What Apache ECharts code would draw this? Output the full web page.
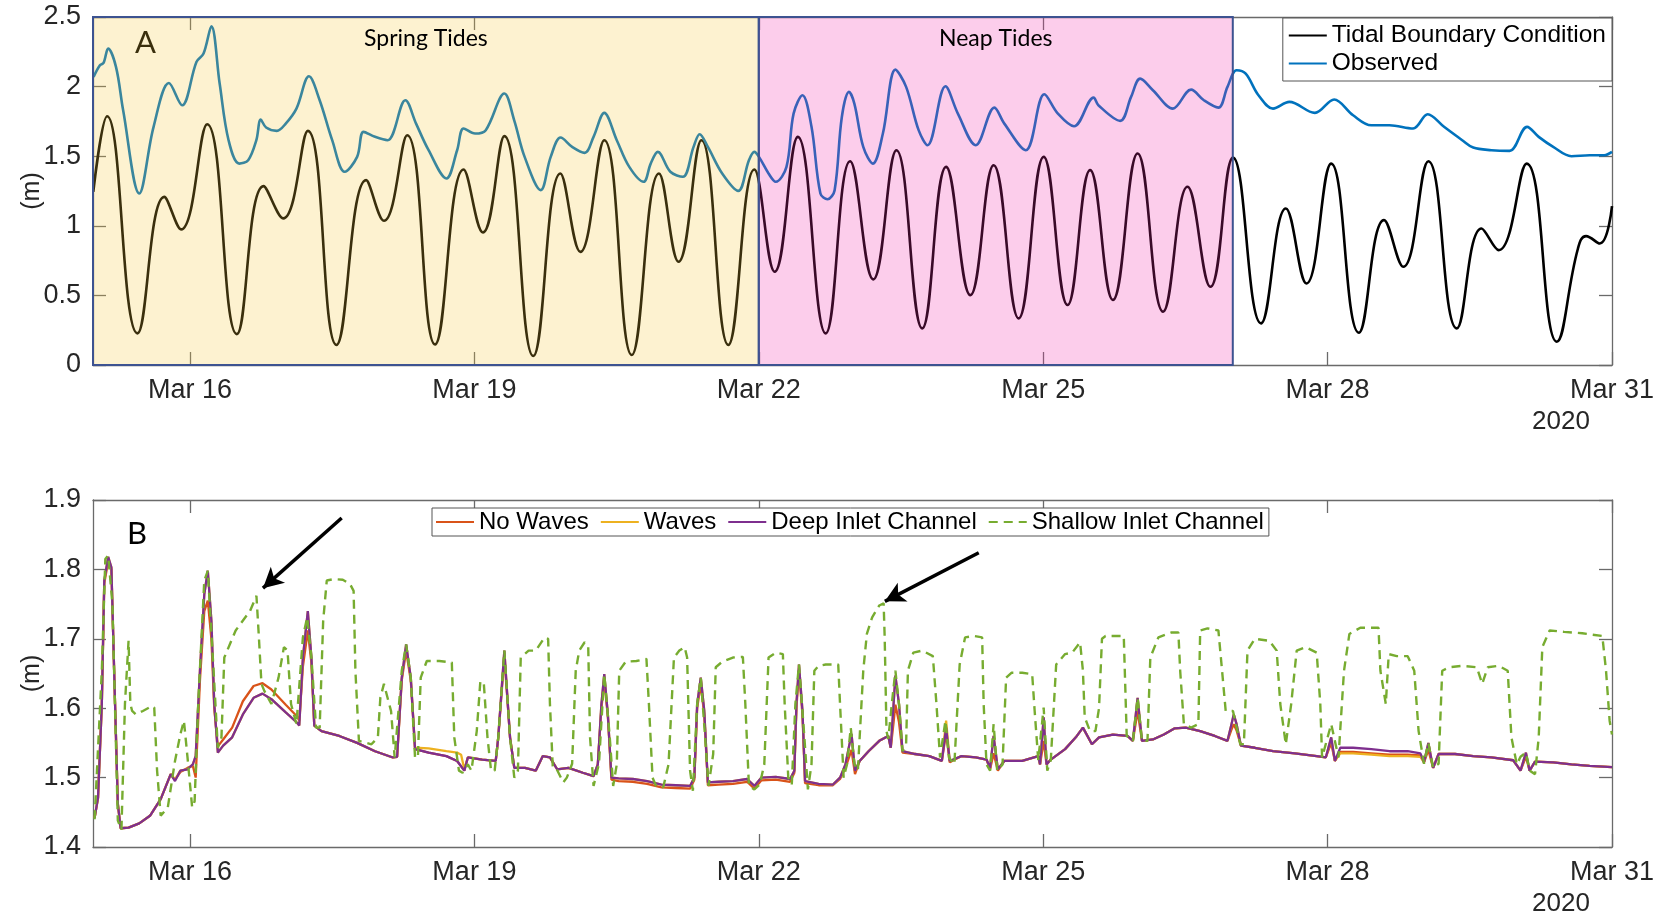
<!DOCTYPE html>
<html>
<head>
<meta charset="utf-8">
<title>Water levels, March 2020</title>
<script src="https://cdn.jsdelivr.net/npm/echarts@6/dist/echarts.min.js"></script>
<style>
  html, body { margin: 0; padding: 0; background: #fff; }
  #chart { width: 1669px; height: 916px; }
</style>
</head>
<body>
<div id="chart"></div>
<script>
// Time is expressed as day of March 2020 (e.g. 16.5 = Mar 16, 12:00).
const X_MIN = 14.977;
const X_MAX = 31;
const dayTicks = [16, 19, 22, 25, 28, 31];
const yearLabel = '2020';

// Shaded periods (day of March)
const springPeriod = [X_MIN, 22];
const neapPeriod = [22, 27];
const periodNames = ['Spring Tides', 'Neap Tides'];

const seriesNamesA = ['Tidal Boundary Condition', 'Observed'];
const seriesNamesB = ['No Waves', 'Waves', 'Deep Inlet Channel', 'Shallow Inlet Channel'];

// Panel A: tidal boundary condition (m), turning points of the tide
const tidalBoundary = [
  [14.98,1.244],[15.126,1.787],[15.446,0.227],[15.729,1.208],[15.906,0.974],[16.181,1.730],
  [16.494,0.222],[16.776,1.285],[16.983,1.053],[17.243,1.682],[17.545,0.144],[17.858,1.328],
  [18.046,1.036],[18.291,1.651],[18.585,0.148],[18.886,1.404],[19.090,0.952],[19.316,1.644],
  [19.621,0.065],[19.907,1.376],[20.118,0.813],[20.370,1.615],[20.660,0.072],[20.947,1.376],
  [21.154,0.742],[21.395,1.615],[21.678,0.144],[21.953,1.404],[22.168,0.670],[22.412,1.639],
  [22.706,0.227],[22.963,1.464],[23.207,0.615],[23.452,1.543],[23.724,0.263],[23.976,1.423],
  [24.232,0.502],[24.477,1.435],[24.741,0.335],[25.005,1.495],[25.257,0.431],[25.495,1.400],
  [25.735,0.467],[25.996,1.519],[26.265,0.383],[26.522,1.280],[26.764,0.562],[27.002,1.490],
  [27.298,0.299],[27.559,1.124],[27.777,0.586],[28.038,1.447],[28.330,0.232],[28.595,1.041],
  [28.798,0.706],[29.063,1.464],[29.363,0.263],[29.624,0.981],[29.804,0.825],[30.100,1.447],
  [30.418,0.167],[30.641,0.837],[30.726,0.926],[30.871,0.873],[31.0,1.141]
];

// Panel A: observed water level (m)
const observed = [
  [14.983,2.069],[15.05,2.153],[15.088,2.17],[15.137,2.273],[15.22,2.14],[15.295,1.83],
  [15.465,1.232],[15.616,1.711],[15.778,2.026],[15.917,1.866],[16.068,2.177],[16.143,2.237],
  [16.226,2.433],[16.313,2.022],[16.407,1.615],[16.52,1.447],[16.614,1.471],[16.70,1.615],
  [16.746,1.763],[16.803,1.706],[16.916,1.682],[17.01,1.734],[17.123,1.842],[17.255,2.074],
  [17.368,1.902],[17.50,1.615],[17.632,1.388],[17.763,1.495],[17.831,1.675],[17.952,1.639],
  [18.084,1.615],[18.272,1.902],[18.385,1.734],[18.517,1.543],[18.705,1.340],[18.818,1.543],
  [18.886,1.699],[19.007,1.663],[19.12,1.687],[19.316,1.950],[19.42,1.758],[19.53,1.495],
  [19.70,1.256],[19.805,1.495],[19.91,1.634],[20.031,1.567],[20.163,1.524],[20.257,1.639],
  [20.37,1.811],[20.502,1.615],[20.634,1.423],[20.785,1.316],[20.86,1.447],[20.935,1.531],
  [21.067,1.388],[21.199,1.352],[21.312,1.567],[21.376,1.658],[21.463,1.567],[21.614,1.376],
  [21.783,1.251],[21.896,1.471],[21.953,1.531],[22.002,1.495],[22.103,1.376],[22.179,1.316],
  [22.292,1.423],[22.367,1.806],[22.461,1.938],[22.556,1.711],[22.65,1.232],[22.725,1.191],
  [22.80,1.256],[22.876,1.782],[22.951,1.962],[23.008,1.878],[23.102,1.567],[23.204,1.447],
  [23.309,1.663],[23.441,2.122],[23.554,1.998],[23.686,1.687],[23.78,1.579],[23.969,2.002],
  [24.1,1.806],[24.289,1.579],[24.485,1.849],[24.59,1.734],[24.816,1.543],[25.012,1.945],
  [25.155,1.806],[25.325,1.715],[25.532,1.921],[25.582,1.866],[25.812,1.754],[25.927,1.926],
  [26.023,2.057],[26.157,1.974],[26.368,1.842],[26.56,1.978],[26.695,1.902],[26.848,1.849],
  [26.944,1.998],[27.04,2.117],[27.136,2.093],[27.271,1.938],[27.424,1.842],[27.597,1.890],
  [27.866,1.811],[28.069,1.907],[28.269,1.794],[28.461,1.722],[28.653,1.722],[28.902,1.699],
  [29.056,1.801],[29.228,1.711],[29.42,1.615],[29.536,1.562],[29.727,1.543],[29.919,1.538],
  [30.104,1.711],[30.227,1.639],[30.38,1.567],[30.572,1.5],[30.764,1.507],[30.917,1.507],
  [31.0,1.531]
];

// Panel B: modelled water level, deep inlet channel (m)
const deepInlet = [
  [14.994,1.442],[15.03,1.471],[15.07,1.606],[15.096,1.784],[15.137,1.818],[15.171,1.803],
  [15.2,1.654],[15.239,1.462],[15.269,1.427],[15.352,1.428],[15.465,1.434],[15.578,1.445],
  [15.691,1.469],[15.797,1.505],[15.842,1.495],[15.898,1.51],[15.974,1.512],[16.03,1.519],
  [16.06,1.531],[16.105,1.654],[16.151,1.764],[16.188,1.798],[16.226,1.726],[16.256,1.606],
  [16.294,1.536],[16.35,1.546],[16.445,1.558],[16.558,1.591],[16.671,1.615],[16.765,1.621],
  [16.859,1.613],[17.01,1.594],[17.13,1.579],[17.153,1.575],[17.191,1.673],[17.243,1.74],
  [17.281,1.673],[17.311,1.575],[17.387,1.567],[17.575,1.56],[17.763,1.55],[17.952,1.538],
  [18.14,1.529],[18.185,1.53],[18.234,1.644],[18.28,1.692],[18.329,1.644],[18.374,1.541],
  [18.517,1.536],[18.705,1.531],[18.818,1.524],[18.894,1.51],[18.931,1.529],[19.082,1.526],
  [19.225,1.524],[19.252,1.558],[19.316,1.683],[19.376,1.558],[19.421,1.514],[19.533,1.514],
  [19.647,1.51],[19.722,1.531],[19.797,1.529],[19.873,1.512],[19.993,1.514],[20.144,1.507],
  [20.257,1.502],[20.302,1.519],[20.34,1.606],[20.37,1.649],[20.408,1.591],[20.446,1.5],
  [20.521,1.499],[20.672,1.498],[20.822,1.495],[20.973,1.49],[21.124,1.489],[21.275,1.488],
  [21.32,1.5],[21.35,1.606],[21.388,1.644],[21.425,1.596],[21.463,1.493],[21.576,1.494],
  [21.727,1.495],[21.877,1.498],[21.953,1.488],[22.028,1.5],[22.179,1.501],[22.33,1.498],
  [22.375,1.51],[22.397,1.606],[22.424,1.663],[22.461,1.596],[22.488,1.495],[22.631,1.491],
  [22.782,1.49],[22.857,1.5],[22.914,1.519],[22.978,1.563],[23.015,1.51],[23.064,1.524],
  [23.158,1.538],[23.271,1.553],[23.366,1.56],[23.392,1.543],[23.422,1.606],[23.441,1.647],
  [23.479,1.606],[23.516,1.538],[23.648,1.534],[23.799,1.531],[23.931,1.524],[23.976,1.572],
  [24.014,1.524],[24.138,1.531],[24.289,1.529],[24.402,1.526],[24.44,1.514],[24.477,1.56],
  [24.522,1.512],[24.59,1.524],[24.779,1.524],[24.948,1.531],[24.967,1.519],[25.005,1.587],
  [25.035,1.519],[25.08,1.526],[25.231,1.541],[25.344,1.558],[25.419,1.572],[25.514,1.548],
  [25.589,1.558],[25.735,1.562],[25.889,1.56],[25.946,1.553],[25.996,1.615],[26.042,1.553],
  [26.157,1.555],[26.273,1.562],[26.388,1.571],[26.503,1.572],[26.656,1.567],[26.81,1.56],
  [26.944,1.553],[26.983,1.575],[27.01,1.591],[27.04,1.577],[27.086,1.546],[27.232,1.543],
  [27.424,1.538],[27.655,1.535],[27.885,1.531],[27.981,1.529],[28.038,1.558],[28.077,1.524],
  [28.134,1.543],[28.269,1.543],[28.461,1.541],[28.653,1.538],[28.845,1.538],[28.979,1.535],
  [29.017,1.522],[29.063,1.55],[29.113,1.514],[29.171,1.534],[29.344,1.534],[29.536,1.531],
  [29.727,1.529],[29.958,1.525],[30.035,1.51],[30.092,1.536],[30.131,1.51],[30.188,1.523],
  [30.38,1.522],[30.572,1.519],[30.764,1.517],[31.0,1.515]
];

// Panel B: modelled water level without waves (m)
const noWaves = [
  [14.994,1.442],[15.03,1.471],[15.07,1.606],[15.096,1.78],[15.137,1.812],[15.171,1.8],
  [15.2,1.654],[15.239,1.462],[15.269,1.427],[15.352,1.428],[15.465,1.434],[15.578,1.445],
  [15.691,1.469],[15.797,1.505],[15.842,1.497],[15.898,1.508],[15.974,1.514],[16.03,1.517],
  [16.06,1.5],[16.105,1.64],[16.151,1.74],[16.188,1.755],[16.226,1.7],[16.256,1.6],
  [16.294,1.545],[16.35,1.555],[16.445,1.572],[16.558,1.61],[16.671,1.632],[16.765,1.636],
  [16.859,1.627],[17.01,1.605],[17.13,1.588],[17.153,1.582],[17.191,1.66],[17.243,1.712],
  [17.281,1.665],[17.311,1.575],[17.387,1.567],[17.575,1.56],[17.763,1.55],[17.952,1.538],
  [18.14,1.529],[18.185,1.53],[18.234,1.64],[18.28,1.683],[18.329,1.64],[18.374,1.541],
  [18.517,1.536],[18.705,1.531],[18.818,1.524],[18.894,1.51],[18.931,1.529],[19.082,1.526],
  [19.225,1.524],[19.252,1.558],[19.316,1.675],[19.376,1.558],[19.421,1.514],[19.533,1.514],
  [19.647,1.51],[19.722,1.531],[19.797,1.529],[19.873,1.512],[19.993,1.514],[20.144,1.507],
  [20.257,1.502],[20.302,1.519],[20.34,1.6],[20.37,1.64],[20.408,1.588],[20.446,1.497],
  [20.521,1.495],[20.672,1.494],[20.822,1.491],[20.973,1.486],[21.124,1.485],[21.275,1.484],
  [21.32,1.497],[21.35,1.6],[21.388,1.635],[21.425,1.59],[21.463,1.489],[21.576,1.49],
  [21.727,1.491],[21.877,1.494],[21.953,1.484],[22.028,1.496],[22.179,1.497],[22.33,1.494],
  [22.375,1.507],[22.397,1.6],[22.424,1.655],[22.461,1.59],[22.488,1.492],[22.631,1.489],
  [22.782,1.489],[22.857,1.498],[22.914,1.514],[22.978,1.54],[23.015,1.505],[23.064,1.524],
  [23.158,1.538],[23.271,1.553],[23.366,1.56],[23.392,1.543],[23.422,1.58],[23.441,1.605],
  [23.479,1.58],[23.516,1.536],[23.648,1.534],[23.799,1.531],[23.931,1.524],[23.976,1.565],
  [24.014,1.522],[24.138,1.531],[24.289,1.529],[24.402,1.526],[24.44,1.512],[24.477,1.535],
  [24.522,1.51],[24.59,1.524],[24.779,1.524],[24.948,1.531],[24.967,1.519],[25.005,1.553],
  [25.035,1.519],[25.08,1.526],[25.231,1.541],[25.344,1.558],[25.419,1.572],[25.514,1.548],
  [25.589,1.558],[25.735,1.562],[25.889,1.56],[25.946,1.553],[25.996,1.596],[26.042,1.553],
  [26.157,1.555],[26.273,1.562],[26.388,1.571],[26.503,1.572],[26.656,1.567],[26.81,1.56],
  [26.944,1.553],[26.983,1.568],[27.01,1.577],[27.04,1.568],[27.086,1.546],[27.232,1.543],
  [27.424,1.538],[27.655,1.535],[27.885,1.531],[27.981,1.529],[28.038,1.55],[28.077,1.524],
  [28.134,1.537],[28.269,1.537],[28.461,1.535],[28.653,1.533],[28.845,1.533],[28.979,1.532],
  [29.017,1.522],[29.063,1.54],[29.113,1.514],[29.171,1.534],[29.344,1.534],[29.536,1.531],
  [29.727,1.529],[29.958,1.525],[30.035,1.51],[30.092,1.53],[30.131,1.51],[30.188,1.523],
  [30.38,1.522],[30.572,1.519],[30.764,1.517],[31.0,1.515]
];

// Panel B: modelled water level with waves (m)
const withWaves = [
  [14.994,1.442],[15.03,1.471],[15.07,1.606],[15.096,1.784],[15.137,1.818],[15.171,1.803],
  [15.2,1.654],[15.239,1.462],[15.269,1.427],[15.352,1.428],[15.465,1.434],[15.578,1.445],
  [15.691,1.469],[15.797,1.505],[15.842,1.497],[15.898,1.51],[15.974,1.512],[16.03,1.519],
  [16.06,1.531],[16.105,1.654],[16.151,1.764],[16.188,1.798],[16.226,1.726],[16.256,1.606],
  [16.294,1.536],[16.35,1.546],[16.445,1.558],[16.558,1.591],[16.671,1.615],[16.765,1.621],
  [16.859,1.613],[17.01,1.594],[17.13,1.579],[17.153,1.575],[17.191,1.673],[17.243,1.74],
  [17.281,1.673],[17.311,1.575],[17.387,1.567],[17.575,1.56],[17.763,1.55],[17.952,1.538],
  [18.14,1.529],[18.185,1.53],[18.234,1.644],[18.28,1.692],[18.329,1.644],[18.374,1.543],
  [18.517,1.542],[18.705,1.538],[18.818,1.536],[18.86,1.533],[18.894,1.512],[18.931,1.529],
  [19.082,1.526],[19.225,1.524],[19.252,1.558],[19.316,1.683],[19.376,1.558],[19.421,1.514],
  [19.533,1.514],[19.647,1.51],[19.722,1.531],[19.797,1.529],[19.873,1.512],[19.993,1.514],
  [20.144,1.507],[20.257,1.502],[20.302,1.519],[20.34,1.606],[20.37,1.649],[20.408,1.591],
  [20.446,1.5],[20.521,1.499],[20.672,1.498],[20.822,1.495],[20.973,1.49],[21.124,1.489],
  [21.275,1.488],[21.32,1.5],[21.35,1.606],[21.388,1.644],[21.425,1.596],[21.463,1.493],
  [21.576,1.494],[21.727,1.495],[21.877,1.498],[21.953,1.488],[22.028,1.5],[22.179,1.501],
  [22.33,1.498],[22.375,1.51],[22.397,1.606],[22.424,1.663],[22.461,1.596],[22.488,1.495],
  [22.631,1.491],[22.782,1.49],[22.857,1.5],[22.914,1.519],[22.978,1.563],[23.015,1.51],
  [23.064,1.524],[23.158,1.538],[23.271,1.553],[23.366,1.56],[23.392,1.543],[23.422,1.606],
  [23.441,1.647],[23.479,1.606],[23.516,1.538],[23.648,1.534],[23.799,1.531],[23.931,1.524],
  [23.976,1.582],[24.014,1.524],[24.138,1.531],[24.289,1.529],[24.402,1.526],[24.44,1.514],
  [24.477,1.56],[24.522,1.512],[24.59,1.524],[24.779,1.524],[24.948,1.531],[24.967,1.519],
  [25.005,1.587],[25.035,1.519],[25.08,1.526],[25.231,1.541],[25.344,1.558],[25.419,1.572],
  [25.514,1.548],[25.589,1.558],[25.735,1.562],[25.889,1.56],[25.946,1.553],[25.996,1.615],
  [26.042,1.553],[26.157,1.555],[26.273,1.562],[26.388,1.571],[26.503,1.572],[26.656,1.567],
  [26.81,1.56],[26.944,1.553],[26.983,1.575],[27.01,1.591],[27.04,1.577],[27.086,1.546],
  [27.232,1.543],[27.424,1.538],[27.655,1.535],[27.885,1.531],[27.981,1.529],[28.038,1.558],
  [28.077,1.524],[28.134,1.535],[28.269,1.535],[28.461,1.533],[28.653,1.531],[28.845,1.531],
  [28.979,1.53],[29.017,1.522],[29.063,1.55],[29.113,1.514],[29.171,1.534],[29.344,1.534],
  [29.536,1.531],[29.727,1.529],[29.958,1.525],[30.035,1.51],[30.092,1.536],[30.131,1.51],
  [30.188,1.523],[30.38,1.522],[30.572,1.519],[30.764,1.517],[31.0,1.515]
];

// Panel B: modelled water level, shallow inlet channel (m)
const shallowInlet = [
  [14.994,1.44],[15.07,1.654],[15.107,1.815],[15.137,1.82],[15.182,1.75],[15.239,1.438],
  [15.277,1.425],[15.314,1.606],[15.352,1.697],[15.371,1.606],[15.39,1.596],[15.428,1.591],
  [15.503,1.596],[15.597,1.603],[15.623,1.601],[15.653,1.51],[15.691,1.445],[15.766,1.457],
  [15.842,1.524],[15.898,1.562],[15.936,1.582],[15.974,1.529],[16.023,1.457],[16.049,1.466],
  [16.087,1.606],[16.151,1.784],[16.188,1.798],[16.249,1.654],[16.294,1.543],[16.332,1.558],
  [16.362,1.673],[16.482,1.712],[16.633,1.74],[16.701,1.762],[16.727,1.702],[16.754,1.635],
  [16.784,1.625],[16.859,1.606],[16.934,1.644],[16.991,1.688],[17.029,1.683],[17.066,1.606],
  [17.123,1.577],[17.191,1.702],[17.236,1.731],[17.281,1.673],[17.33,1.572],[17.368,1.572],
  [17.405,1.726],[17.443,1.784],[17.518,1.786],[17.612,1.785],[17.688,1.779],[17.726,1.769],
  [17.745,1.654],[17.782,1.553],[17.914,1.548],[17.982,1.558],[18.008,1.615],[18.046,1.635],
  [18.084,1.615],[18.121,1.596],[18.159,1.529],[18.234,1.654],[18.28,1.692],[18.329,1.644],
  [18.374,1.529],[18.404,1.529],[18.434,1.644],[18.498,1.668],[18.63,1.668],[18.762,1.666],
  [18.788,1.558],[18.837,1.51],[18.875,1.507],[18.931,1.519],[18.969,1.51],[19.025,1.567],
  [19.063,1.639],[19.1,1.635],[19.138,1.558],[19.176,1.51],[19.214,1.51],[19.252,1.558],
  [19.316,1.683],[19.376,1.558],[19.421,1.5],[19.459,1.51],[19.489,1.673],[19.572,1.683],
  [19.647,1.683],[19.741,1.702],[19.778,1.7],[19.797,1.606],[19.827,1.515],[19.862,1.514],
  [19.937,1.493],[19.975,1.5],[20.031,1.52],[20.069,1.654],[20.106,1.683],[20.163,1.695],
  [20.201,1.688],[20.22,1.558],[20.257,1.488],[20.314,1.52],[20.37,1.649],[20.427,1.56],
  [20.464,1.488],[20.502,1.519],[20.528,1.654],[20.596,1.667],[20.709,1.668],[20.815,1.671],
  [20.841,1.606],[20.879,1.5],[20.917,1.488],[20.992,1.486],[21.048,1.519],[21.105,1.673],
  [21.162,1.683],[21.218,1.688],[21.244,1.673],[21.275,1.51],[21.305,1.481],[21.35,1.606],
  [21.388,1.644],[21.433,1.56],[21.47,1.488],[21.519,1.534],[21.546,1.659],[21.614,1.667],
  [21.727,1.673],[21.832,1.674],[21.858,1.606],[21.896,1.488],[21.953,1.483],[22.01,1.49],
  [22.058,1.519],[22.103,1.673],[22.179,1.68],[22.254,1.678],[22.273,1.606],[22.311,1.5],
  [22.348,1.49],[22.386,1.606],[22.424,1.663],[22.48,1.56],[22.518,1.483],[22.556,1.519],
  [22.586,1.654],[22.631,1.661],[22.706,1.663],[22.838,1.663],[22.857,1.606],[22.895,1.5],
  [22.932,1.52],[22.97,1.572],[23.008,1.52],[23.045,1.51],[23.102,1.654],[23.14,1.707],
  [23.196,1.731],[23.271,1.748],[23.317,1.751],[23.328,1.702],[23.347,1.567],[23.366,1.556],
  [23.403,1.606],[23.441,1.654],[23.479,1.606],[23.516,1.538],[23.554,1.548],[23.573,1.654],
  [23.63,1.68],[23.724,1.683],[23.836,1.675],[23.874,1.606],[23.912,1.529],[23.969,1.582],
  [24.006,1.529],[24.063,1.519],[24.119,1.663],[24.176,1.702],[24.27,1.704],[24.356,1.702],
  [24.372,1.606],[24.402,1.519],[24.44,1.51],[24.477,1.577],[24.515,1.51],[24.571,1.519],
  [24.609,1.644],[24.665,1.651],[24.779,1.651],[24.884,1.649],[24.91,1.596],[24.948,1.525],
  [25.005,1.601],[25.043,1.51],[25.08,1.525],[25.137,1.663],[25.231,1.678],[25.306,1.68],
  [25.389,1.695],[25.419,1.654],[25.438,1.587],[25.494,1.567],[25.551,1.567],[25.589,1.6],
  [25.62,1.7],[25.658,1.704],[25.85,1.704],[25.881,1.56],[25.946,1.553],[25.996,1.615],
  [26.042,1.553],[26.1,1.553],[26.13,1.673],[26.215,1.702],[26.349,1.709],[26.426,1.709],
  [26.445,1.654],[26.484,1.577],[26.56,1.572],[26.637,1.577],[26.656,1.712],[26.733,1.715],
  [26.848,1.712],[26.887,1.654],[26.925,1.596],[27.002,1.596],[27.079,1.548],[27.117,1.548],
  [27.155,1.683],[27.232,1.7],[27.386,1.697],[27.463,1.683],[27.501,1.606],[27.559,1.548],
  [27.616,1.606],[27.674,1.683],[27.77,1.688],[27.885,1.68],[27.923,1.606],[27.942,1.529],
  [28.038,1.577],[28.115,1.529],[28.173,1.654],[28.23,1.707],[28.345,1.716],[28.537,1.716],
  [28.557,1.654],[28.614,1.606],[28.645,1.678],[28.729,1.675],[28.845,1.675],[28.914,1.654],
  [28.96,1.567],[29.017,1.52],[29.063,1.55],[29.113,1.514],[29.171,1.52],[29.209,1.654],
  [29.286,1.659],[29.42,1.661],[29.574,1.659],[29.631,1.635],[29.689,1.659],[29.804,1.661],
  [29.9,1.654],[29.939,1.558],[29.996,1.519],[30.035,1.53],[30.092,1.536],[30.131,1.51],
  [30.188,1.505],[30.227,1.558],[30.265,1.688],[30.342,1.712],[30.495,1.71],[30.687,1.708],
  [30.898,1.704],[30.937,1.654],[30.975,1.582],[31.0,1.562]
];

// Arrows pointing at the shallow-channel peaks: [tail, head] in (day, m)
const arrowPairs = [
  [[17.60, 1.874], [16.77, 1.773]],
  [[24.32, 1.824], [23.33, 1.754]]
];

const FONT = '"Liberation Sans", Arial, sans-serif';
const AXIS_COLOR = '#6a6a6a';
const TEXT_COLOR = '#262626';

const chart = echarts.init(document.getElementById('chart'), null, { renderer: 'canvas' });

function xAxisPair(gridIndex) {
  const common = {
    gridIndex, type: 'value', min: X_MIN, max: X_MAX,
    splitLine: { show: false },
    axisLine: { show: true, onZero: false, lineStyle: { color: AXIS_COLOR, width: 1.3 } },
    axisTick: { show: true, inside: true, length: 13, customValues: dayTicks,
      lineStyle: { color: AXIS_COLOR, width: 1.3 } }
  };
  return [
    Object.assign({}, common, {
      position: 'bottom',
      axisLabel: { show: true, customValues: dayTicks, margin: 12,
        formatter: v => 'Mar ' + Math.round(v),
        fontFamily: FONT, fontSize: 27, color: TEXT_COLOR }
    }),
    Object.assign({}, common, { position: 'top', axisLabel: { show: false } })
  ];
}

function yAxisPair(gridIndex, min, max, interval) {
  const common = {
    gridIndex, type: 'value', min, max, interval,
    splitLine: { show: false },
    axisLine: { show: true, onZero: false, lineStyle: { color: AXIS_COLOR, width: 1.3 } },
    axisTick: { show: true, inside: true, length: 13, lineStyle: { color: AXIS_COLOR, width: 1.3 } }
  };
  return [
    Object.assign({}, common, {
      position: 'left',
      name: '(m)', nameLocation: 'middle', nameGap: 48, nameRotate: 90,
      nameMoveOverlap: false,
      nameTextStyle: { fontFamily: FONT, fontSize: 25, color: TEXT_COLOR },
      axisLabel: { show: true, margin: 12, fontFamily: FONT, fontSize: 27, color: TEXT_COLOR,
        formatter: v => String(Math.round(v * 10) / 10) }
    }),
    Object.assign({}, common, { position: 'right', axisLabel: { show: false } })
  ];
}

const lineBase = { type: 'line', symbol: 'none', showSymbol: false, animation: false, silent: true };

const periodLabel = {
  show: true, position: 'insideTop', distance: 11,
  fontFamily: 'Lato, "Open Sans", sans-serif', fontSize: 23, color: '#000'
};

const legendBase = {
  itemWidth: 38, itemHeight: 14, selectedMode: false,
  backgroundColor: '#fff', borderColor: '#555', borderWidth: 1,
  // line-only legend keys
  itemStyle: { opacity: 0 },
  textStyle: { fontFamily: FONT, fontSize: 24.5, color: '#000' }
};

const option = {
  animation: false,
  backgroundColor: '#ffffff',
  grid: [
    { left: 93, top: 17, width: 1519, height: 348 },
    { left: 93, top: 500, width: 1519, height: 347 }
  ],
  xAxis: [...xAxisPair(0), ...xAxisPair(1)],
  yAxis: [...yAxisPair(0, 0, 2.5, 0.5), ...yAxisPair(1, 1.4, 1.9, 0.1)],
  legend: [
    Object.assign({}, legendBase, {
      data: seriesNamesA, orient: 'vertical', right: 57, top: 18,
      itemGap: 3, padding: [5, 6, 5, 5]
    }),
    Object.assign({}, legendBase, {
      data: seriesNamesB, orient: 'horizontal', left: 432, top: 508,
      itemGap: 11, padding: [2, 5, 2, 3],
      textStyle: { fontFamily: FONT, fontSize: 24, color: '#000' }
    })
  ],
  graphic: [
    { type: 'text', left: 135, top: 27, z: 5,
      style: { text: 'A', fontFamily: 'Lato, sans-serif', fontSize: 31, fill: '#000' } },
    { type: 'text', left: 127, top: 518, z: 5,
      style: { text: 'B', fontFamily: 'Lato, sans-serif', fontSize: 31, fill: '#000' } },
    { type: 'text', x: 1561, y: 422, z: 5,
      style: { text: yearLabel, fontFamily: FONT, fontSize: 26, fill: TEXT_COLOR,
        align: 'center', verticalAlign: 'middle' } },
    { type: 'text', x: 1561, y: 904, z: 5,
      style: { text: yearLabel, fontFamily: FONT, fontSize: 26, fill: TEXT_COLOR,
        align: 'center', verticalAlign: 'middle' } }
  ],
  series: [
    Object.assign({}, lineBase, {
      name: seriesNamesA[0], xAxisIndex: 0, yAxisIndex: 0, z: 2,
      data: tidalBoundary, smooth: 0.45,
      color: '#000000', lineStyle: { color: '#000000', width: 2.6 }
    }),
    Object.assign({}, lineBase, {
      name: seriesNamesA[1], xAxisIndex: 0, yAxisIndex: 0, z: 3,
      data: observed, smooth: 0.35,
      color: '#0072BD', lineStyle: { color: '#0072BD', width: 2.6 }
    }),
    // translucent period shading laid over the tide curves
    Object.assign({}, lineBase, {
      name: 'periods', xAxisIndex: 0, yAxisIndex: 0, z: 10, data: [],
      markArea: {
        silent: true, z: 10,
        data: [
          [
            { name: periodNames[0], xAxis: springPeriod[0], yAxis: 0,
              itemStyle: { color: 'rgba(247,200,55,0.235)', borderColor: '#3d5391', borderWidth: 2 },
              label: periodLabel },
            { xAxis: springPeriod[1], yAxis: 2.5 }
          ],
          [
            { name: periodNames[1], xAxis: neapPeriod[0], yAxis: 0,
              itemStyle: { color: 'rgba(243,43,170,0.235)', borderColor: '#3d5391', borderWidth: 2 },
              label: periodLabel },
            { xAxis: neapPeriod[1], yAxis: 2.5 }
          ]
        ]
      }
    }),
    Object.assign({}, lineBase, {
      name: seriesNamesB[0], xAxisIndex: 2, yAxisIndex: 2, z: 2,
      data: noWaves, color: '#D95319', lineStyle: { color: '#D95319', width: 2.3 }
    }),
    Object.assign({}, lineBase, {
      name: seriesNamesB[1], xAxisIndex: 2, yAxisIndex: 2, z: 3,
      data: withWaves, color: '#EDB120', lineStyle: { color: '#EDB120', width: 2.3 }
    }),
    Object.assign({}, lineBase, {
      name: seriesNamesB[2], xAxisIndex: 2, yAxisIndex: 2, z: 4,
      data: deepInlet, color: '#7E2F8E', lineStyle: { color: '#7E2F8E', width: 2.3 }
    }),
    Object.assign({}, lineBase, {
      name: seriesNamesB[3], xAxisIndex: 2, yAxisIndex: 2, z: 5,
      data: shallowInlet, color: '#77AC30',
      lineStyle: { color: '#77AC30', width: 2.4, type: [9, 6] }
    }),
    // annotation arrows
    Object.assign({}, lineBase, {
      name: 'arrows', xAxisIndex: 2, yAxisIndex: 2, z: 20, data: [],
      markLine: {
        silent: true, animation: false, z: 20,
        symbol: ['none', 'arrow'], symbolSize: [16, 20],
        label: { show: false },
        lineStyle: { color: '#000', width: 3.5, type: 'solid' },
        emphasis: { disabled: true },
        data: arrowPairs.map(p => [{ coord: p[0] }, { coord: p[1] }])
      }
    })
  ]
};

chart.setOption(option);
</script>
</body>
</html>
